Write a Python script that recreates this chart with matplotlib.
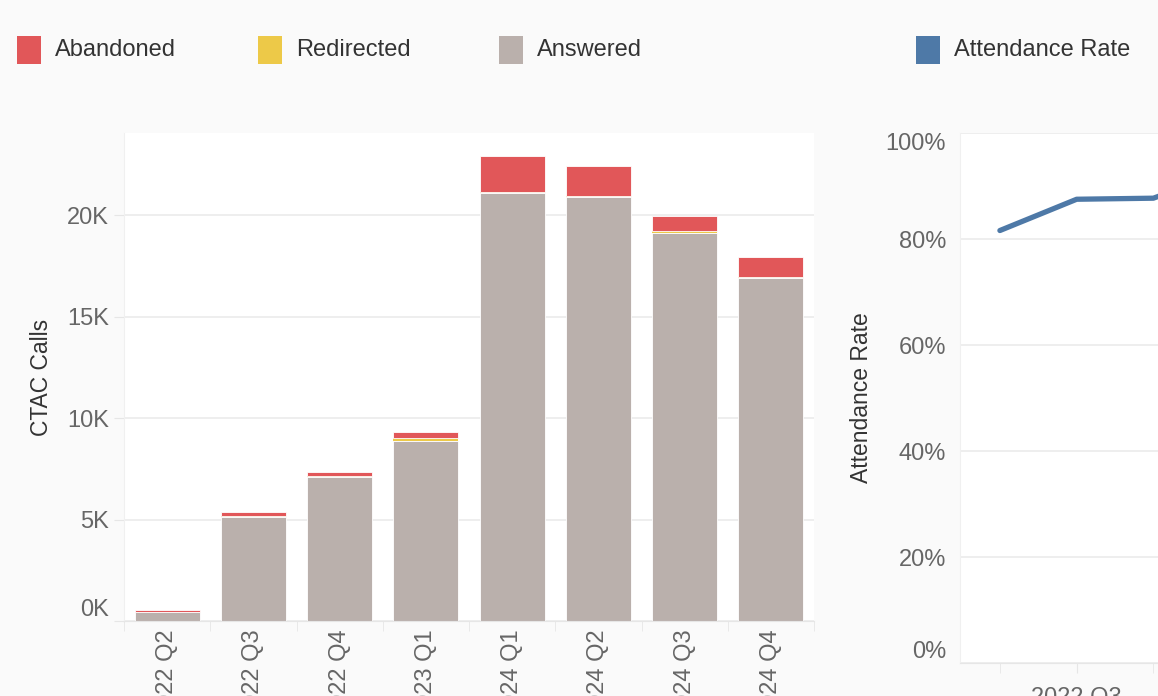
import matplotlib.pyplot as plt
from matplotlib.patches import Rectangle
from matplotlib.ticker import FuncFormatter, FixedLocator
import numpy as np

plt.rcParams['font.family'] = ['Liberation Sans', 'DejaVu Sans']

# data
quarters = ['2022 Q2', '2022 Q3', '2022 Q4', '2023 Q1', '2024 Q1', '2024 Q2', '2024 Q3', '2024 Q4']
answered = [440, 5100, 7090, 8870, 21080, 20890, 19110, 16920]
redirected = [10, 90, 30, 160, 40, 40, 100, 50]
abandoned = [100, 170, 230, 280, 1800, 1500, 750, 940]

# attendance rate, only the first quarters are inside the frame
attendance_quarters = ['2022 Q2', '2022 Q3', '2022 Q4', '2023 Q1']
attendance_rate = [0.816, 0.875, 0.877, 0.93]

red = '#E15759'
yellow = '#EDC948'
grey = '#BAB0AC'
blue = '#4E79A7'
grid_c = '#ebebeb'
tick_c = '#666666'
label_c = '#333333'

W, H = 1158, 696
fig = plt.figure(figsize=(W / 100, H / 100), dpi=100, facecolor='#fafafa')

#left panel: stacked bars
ax = fig.add_axes([124 / W, (H - 621) / H, 690 / W, 488 / H])
x = np.arange(len(quarters))
bw = 0.755
ans = np.array(answered)
red_ = np.array(redirected)
ab = np.array(abandoned)
ax.bar(x, ans, bw, color=grey, edgecolor='white', linewidth=0.6, zorder=2)
ax.bar(x, red_, bw, bottom=ans, color=yellow, linewidth=0, zorder=2)
ax.bar(x, ab, bw, bottom=ans + red_, color=red, edgecolor='white', linewidth=0.6, zorder=2)

ax.set_xlim(-0.5, len(quarters) - 0.5)
ax.set_ylim(0, 24040)
ax.set_facecolor('white')
ax.yaxis.set_major_locator(FixedLocator([0, 5000, 10000, 15000, 20000]))
ax.yaxis.set_major_formatter(FuncFormatter(lambda v, p: f'{v / 1000:.0f}K'))
ax.grid(axis='y', color=grid_c, linewidth=1.2, zorder=0)
ax.set_xticks(x)
ax.set_xticklabels(quarters, rotation=90, ha='center', va='top')
ax.set_xticks(np.arange(len(quarters) + 1) - 0.5, minor=True)
ax.tick_params(axis='x', which='major', length=0, pad=6, labelsize=17, labelcolor=tick_c)
ax.tick_params(axis='x', which='minor', length=7, color='#e6e6e6')
ax.tick_params(axis='y', length=7, color='#e6e6e6', pad=4, labelsize=17, labelcolor=tick_c)
for s in ['top', 'right']:
    ax.spines[s].set_visible(False)
ax.spines['left'].set_color('#f0f0f0')
ax.spines['bottom'].set_color('#e6e6e6')
ax.set_ylabel('CTAC Calls', fontsize=16.5, color=label_c, labelpad=10)
ax.get_yticklabels()[0].set_va('bottom')

#right panel: attendance rate line (cut off by the frame)
ax2 = fig.add_axes([960 / W, (H - 663) / H, 617 / W, 530 / H])
ax2.set_facecolor('white')
xa = np.arange(len(attendance_rate))
ax2.plot(xa, attendance_rate, color=blue, linewidth=3.8, solid_capstyle='round', solid_joinstyle='round', zorder=3)
ax2.set_xlim(-0.52, len(quarters) - 0.48)
ax2.set_ylim(0, 1)
ax2.yaxis.set_major_locator(FixedLocator([0, 0.2, 0.4, 0.6, 0.8, 1.0]))
ax2.yaxis.set_major_formatter(FuncFormatter(lambda v, p: f'{v * 100:.0f}%'))
ax2.grid(axis='y', color=grid_c, linewidth=1.2, zorder=0)
ax2.set_xticks(x[1::2])
ax2.set_xticklabels(quarters[1::2])
ax2.set_xticks(x, minor=True)
ax2.tick_params(axis='x', which='major', length=7, color='#e6e6e6', pad=10, labelsize=17, labelcolor=tick_c)
ax2.tick_params(axis='x', which='minor', length=7, color='#e6e6e6')
ax2.tick_params(axis='y', length=0, pad=10, labelsize=17, labelcolor=tick_c)
for s in ['top', 'right']:
    ax2.spines[s].set_visible(False)
ax2.spines['left'].set_color('#f0f0f0')
ax2.spines['bottom'].set_color('#e6e6e6')
ax2.set_ylabel('Attendance Rate', fontsize=16.5, color=label_c, labelpad=9)
ylabs2 = ax2.get_yticklabels()
ylabs2[0].set_va('bottom')
ylabs2[-1].set_va('top')

#legend across the top
legend_items = [('Abandoned', red, 17), ('Redirected', yellow, 258), ('Answered', grey, 499),
                ('Attendance Rate', blue, 916)]
for name, col, px in legend_items:
    fig.add_artist(Rectangle((px / W, (H - 64) / H), 24 / W, 28 / H, transform=fig.transFigure,
                             facecolor=col, edgecolor='none'))
    fig.text((px + 38) / W, (H - 50) / H, name, fontsize=17, color=label_c, va='center', ha='left')

fig.savefig('out.png', dpi=100, facecolor=fig.get_facecolor())
